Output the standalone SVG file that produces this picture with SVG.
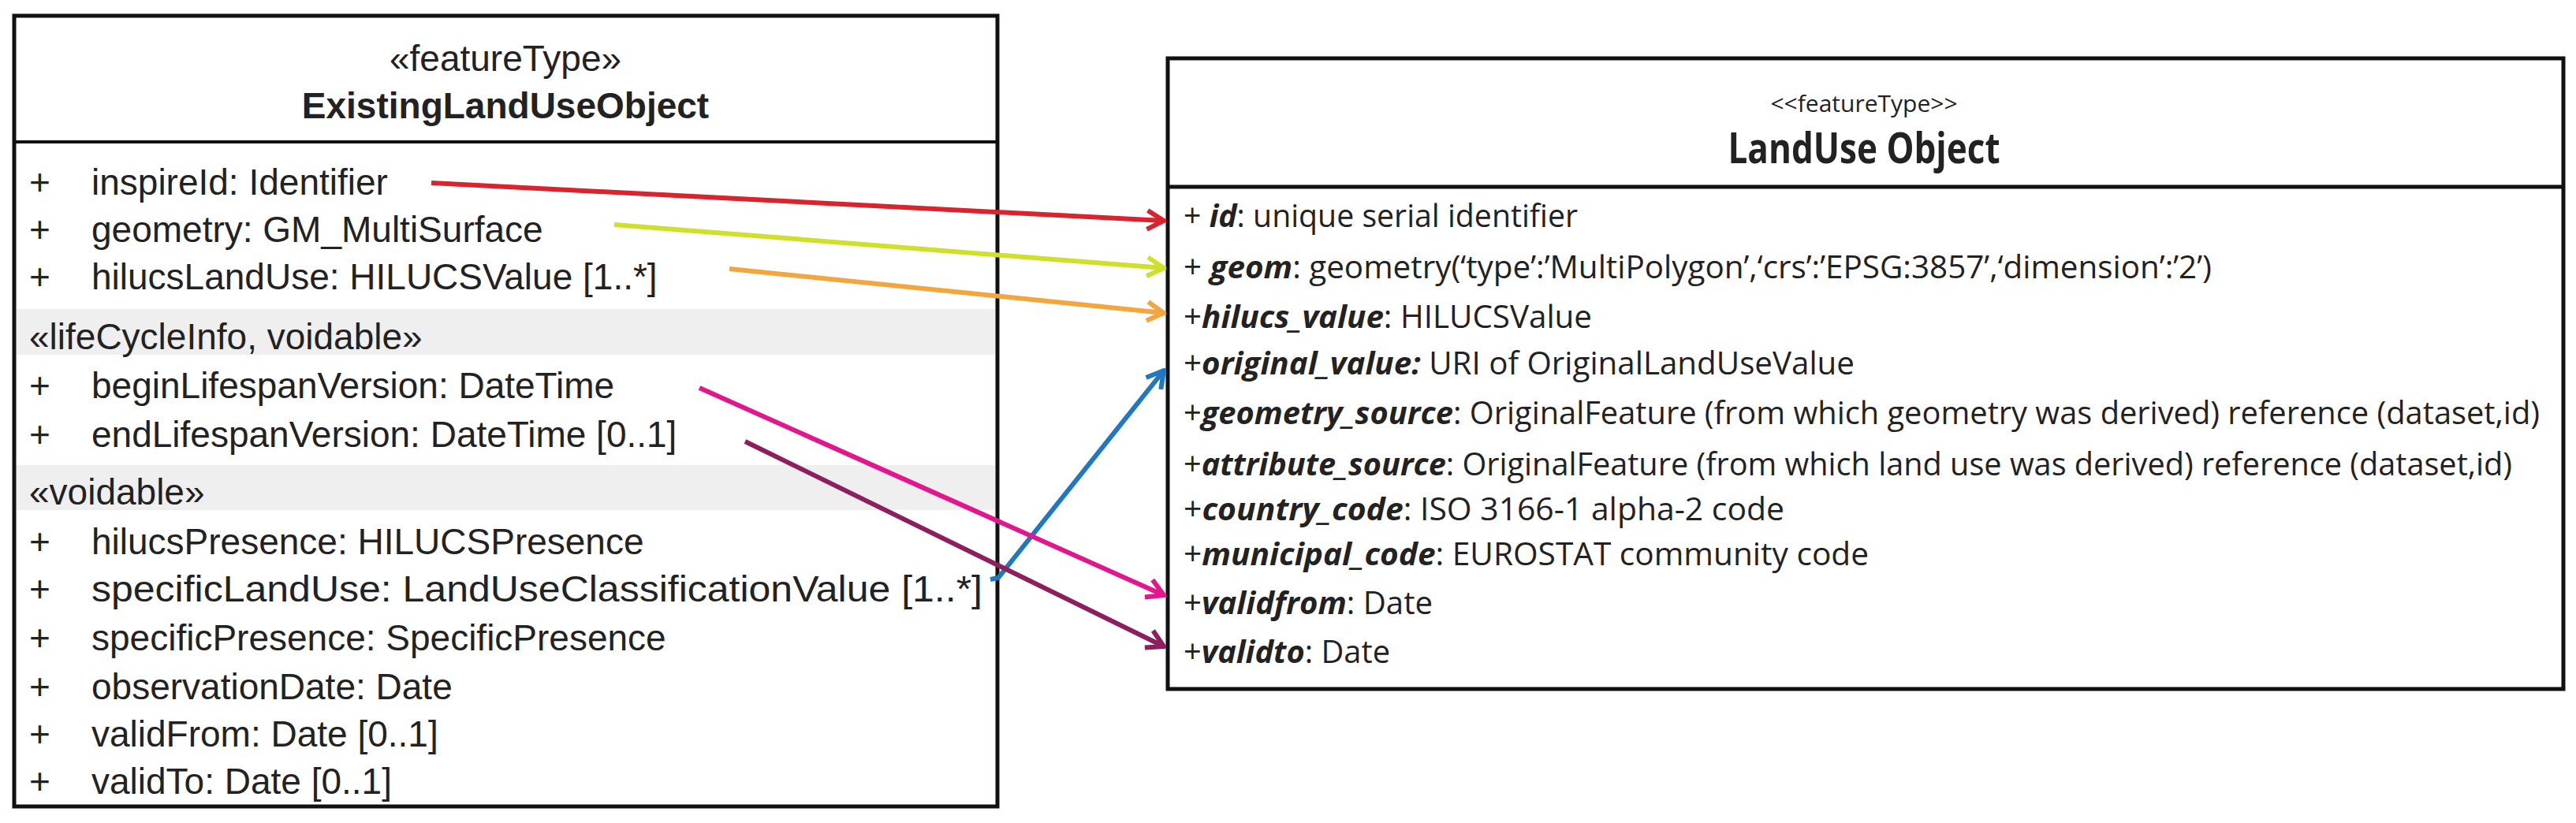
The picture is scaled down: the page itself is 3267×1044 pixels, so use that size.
<svg xmlns="http://www.w3.org/2000/svg" width="3267" height="1044" viewBox="0 0 3267 1044">
<style>
.box{fill:#fff;stroke:#111;stroke-width:5}
.l{font-family:"Liberation Sans",Arial,sans-serif;font-size:46px;fill:#222;white-space:pre}
.r{font-family:"Open Sans","Noto Sans",sans-serif;font-size:40px;fill:#222}
.st{font-size:30px}
.tt{font-size:54px;font-weight:bold}
.b{font-weight:bold;font-style:italic}
.c{stroke-width:6;fill:none}
</style>
<defs>
<marker id="mr" viewBox="0 0 20 20" refX="18" refY="10" markerWidth="30" markerHeight="30" markerUnits="userSpaceOnUse" orient="auto"><path d="M4,2 L18,10 L4,18" fill="none" stroke="#d9232e" stroke-width="4"/></marker>
<marker id="my" viewBox="0 0 20 20" refX="18" refY="10" markerWidth="30" markerHeight="30" markerUnits="userSpaceOnUse" orient="auto"><path d="M4,2 L18,10 L4,18" fill="none" stroke="#cfe02a" stroke-width="4"/></marker>
<marker id="mo" viewBox="0 0 20 20" refX="18" refY="10" markerWidth="30" markerHeight="30" markerUnits="userSpaceOnUse" orient="auto"><path d="M4,2 L18,10 L4,18" fill="none" stroke="#f2a63d" stroke-width="4"/></marker>
<marker id="mb" viewBox="0 0 20 20" refX="18" refY="10" markerWidth="30" markerHeight="30" markerUnits="userSpaceOnUse" orient="auto"><path d="M4,2 L18,10 L4,18" fill="none" stroke="#1f78c1" stroke-width="4"/></marker>
<marker id="mp" viewBox="0 0 20 20" refX="18" refY="10" markerWidth="30" markerHeight="30" markerUnits="userSpaceOnUse" orient="auto"><path d="M4,2 L18,10 L4,18" fill="none" stroke="#e0178d" stroke-width="4"/></marker>
<marker id="mu" viewBox="0 0 20 20" refX="18" refY="10" markerWidth="30" markerHeight="30" markerUnits="userSpaceOnUse" orient="auto"><path d="M4,2 L18,10 L4,18" fill="none" stroke="#8c1f5e" stroke-width="4"/></marker>
</defs>
<g id="existing">
<rect class="box" x="18" y="20" width="1247" height="1003"/>
<line x1="18" y1="180" x2="1265" y2="180" stroke="#111" stroke-width="4"/>
<rect x="21" y="392" width="1241" height="58" fill="#efefef"/>
<rect x="21" y="590" width="1241" height="57" fill="#efefef"/>
<text class="l" x="641" y="90" text-anchor="middle">«featureType»</text>
<text class="l" x="641" y="150" text-anchor="middle" font-weight="bold">ExistingLandUseObject</text>
<g class="l">
<text x="37" y="247">+</text><text x="116" y="247">inspireId:  Identifier</text>
<text x="37" y="307">+</text><text x="116" y="307">geometry:  GM_MultiSurface</text>
<text x="37" y="367">+</text><text x="116" y="367">hilucsLandUse:  HILUCSValue [1..*]</text>
<text x="37" y="443">«lifeCycleInfo, voidable»</text>
<text x="37" y="505">+</text><text x="116" y="505">beginLifespanVersion:  DateTime</text>
<text x="37" y="567">+</text><text x="116" y="567">endLifespanVersion:  DateTime [0..1]</text>
<text x="37" y="640">«voidable»</text>
<text x="37" y="703">+</text><text x="116" y="703">hilucsPresence:  HILUCSPresence</text>
<text x="37" y="763">+</text><text x="116" y="763" textLength="1130" lengthAdjust="spacingAndGlyphs">specificLandUse:  LandUseClassificationValue [1..*]</text>
<text x="37" y="825">+</text><text x="116" y="825">specificPresence:  SpecificPresence</text>
<text x="37" y="887">+</text><text x="116" y="887">observationDate:  Date</text>
<text x="37" y="947">+</text><text x="116" y="947">validFrom:  Date [0..1]</text>
<text x="37" y="1007">+</text><text x="116" y="1007">validTo:  Date [0..1]</text>
</g>
</g>
<g id="landuse">
<rect class="box" x="1481" y="74" width="1770" height="800"/>
<line x1="1481" y1="237" x2="3251" y2="237" stroke="#111" stroke-width="5"/>
<text class="r st" x="2364" y="142" text-anchor="middle">&lt;&lt;featureType&gt;&gt;</text>
<text class="r tt" x="2364" y="207" text-anchor="middle" textLength="345" lengthAdjust="spacingAndGlyphs">LandUse Object</text>
<g class="r">
<text x="1501" y="288" textLength="500" lengthAdjust="spacingAndGlyphs">+ <tspan class="b">id</tspan>: unique serial identifier</text>
<text x="1501" y="353" textLength="1304" lengthAdjust="spacingAndGlyphs">+ <tspan class="b">geom</tspan>: geometry(‘type’:’MultiPolygon’,‘crs’:’EPSG:3857’,‘dimension’:’2’)</text>
<text x="1501" y="416" textLength="518" lengthAdjust="spacingAndGlyphs">+<tspan class="b">hilucs_value</tspan>: HILUCSValue</text>
<text x="1501" y="475" textLength="851" lengthAdjust="spacingAndGlyphs">+<tspan class="b">original_value:</tspan> URI of OriginalLandUseValue</text>
<text x="1501" y="538" textLength="1720" lengthAdjust="spacingAndGlyphs">+<tspan class="b">geometry_source</tspan>: OriginalFeature (from which geometry was derived) reference (dataset,id)</text>
<text x="1501" y="603" textLength="1685" lengthAdjust="spacingAndGlyphs">+<tspan class="b">attribute_source</tspan>: OriginalFeature (from which land use was derived) reference (dataset,id)</text>
<text x="1501" y="660" textLength="762" lengthAdjust="spacingAndGlyphs">+<tspan class="b">country_code</tspan>:  ISO 3166-1 alpha-2 code</text>
<text x="1501" y="717" textLength="869" lengthAdjust="spacingAndGlyphs">+<tspan class="b">municipal_code</tspan>:  EUROSTAT community code</text>
<text x="1501" y="779" textLength="316" lengthAdjust="spacingAndGlyphs">+<tspan class="b">validfrom</tspan>: Date</text>
<text x="1501" y="841" textLength="262" lengthAdjust="spacingAndGlyphs">+<tspan class="b">validto</tspan>: Date</text>
</g>
</g>
<g id="connectors" class="c">
<line x1="547" y1="232" x2="1476" y2="280" stroke="#d9232e" marker-end="url(#mr)"/>
<line x1="779" y1="285" x2="1476" y2="340" stroke="#cfe02a" marker-end="url(#my)"/>
<line x1="925" y1="341" x2="1476" y2="397" stroke="#f2a63d" marker-end="url(#mo)"/>
<polyline points="1256,735 1266,733 1476,470" stroke="#1f78c1" marker-end="url(#mb)"/>
<line x1="887" y1="492" x2="1476" y2="755" stroke="#e0178d" marker-end="url(#mp)"/>
<line x1="945" y1="560" x2="1476" y2="820" stroke="#8c1f5e" marker-end="url(#mu)"/>
</g>
</svg>
